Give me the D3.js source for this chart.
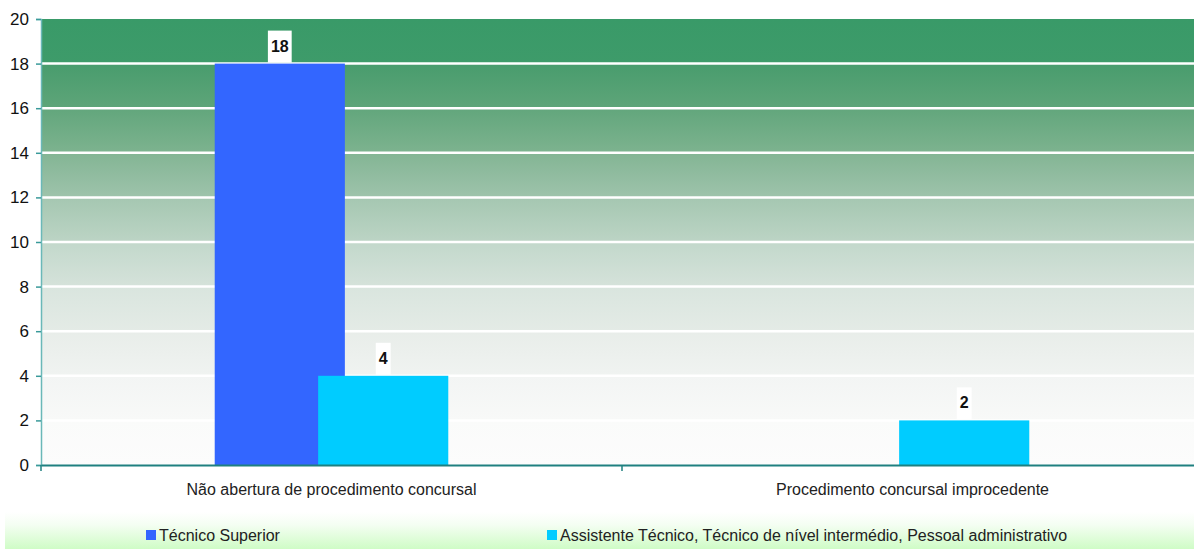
<!DOCTYPE html>
<html>
<head>
<meta charset="utf-8">
<script src="https://cdn.jsdelivr.net/npm/d3@7"></script>
<style>
  html, body { margin: 0; padding: 0; background: #fff; }
  svg { display: block; font-family: Arial, "Liberation Sans", sans-serif; }
</style>
</head>
<body>
<svg id="chart" width="1194" height="549"></svg>
<script>
// Categories, series and values
const categories = ["Não abertura de procedimento concursal", "Procedimento concursal improcedente"];
const seriesNames = ["Técnico Superior", "Assistente Técnico, Técnico de nível intermédio, Pessoal administrativo"];
const tecnicoSuperior = [18, 0];
const assistenteTecnico = [4, 2];
const yTicks = [0, 2, 4, 6, 8, 10, 12, 14, 16, 18, 20];

const seriesValues = [tecnicoSuperior, assistenteTecnico];
const seriesColors = ["#3366ff", "#00ccff"];

const svg = d3.select("#chart");
const W = 1194, H = 549;
const plot = { left: 41, right: 1203, top: 19, bottom: 465 };

const y = d3.scaleLinear().domain([0, 20]).range([plot.bottom, plot.top]);
const x0 = d3.scaleBand().domain(categories).range([plot.left, plot.right]).padding(0);
const barFrac = 0.224;   // bar width as a share of the category band
const stepFrac = 0.178;  // distance between the two series bars (they overlap)
const x1 = d3.scalePoint().domain(d3.range(seriesNames.length)).range([-stepFrac / 2, stepFrac / 2]);
const bw = x0.bandwidth() * barFrac;

const defs = svg.append("defs");

// Plot background: banded vertical gradient, dark green at top fading to white
const bandColors = [
  ["#399a68", "#3e9b6a"], ["#489c6d", "#5ea579"], ["#62a67c", "#7db38f"],
  ["#83b594", "#9ec3ab"], ["#a5c7b1", "#bcd4c5"], ["#c2d8cb", "#d5e2da"],
  ["#d9e5de", "#e4ebe6"], ["#e8ede9", "#f0f3f1"], ["#f3f5f4", "#f8f9f8"],
  ["#fafbfa", "#fcfcfc"]
];
const bg = defs.append("linearGradient").attr("id", "plotBg")
  .attr("x1", 0).attr("y1", 0).attr("x2", 0).attr("y2", 1);
bandColors.forEach((c, i) => {
  const n = bandColors.length;
  bg.append("stop").attr("offset", i / n).attr("stop-color", c[0]);
  bg.append("stop").attr("offset", (i + 1) / n).attr("stop-color", c[1]);
});

const lg = defs.append("linearGradient").attr("id", "legendBg")
  .attr("x1", 0).attr("y1", 0).attr("x2", 0).attr("y2", 1);
lg.append("stop").attr("offset", 0).attr("stop-color", "#ffffff");
lg.append("stop").attr("offset", 0.35).attr("stop-color", "#f4fef2");
lg.append("stop").attr("offset", 1).attr("stop-color", "#cffcc6");

svg.append("rect").attr("x", 0).attr("y", 0).attr("width", W).attr("height", H).attr("fill", "#fff");

svg.append("rect")
  .attr("x", plot.left).attr("y", y(20))
  .attr("width", plot.right - plot.left).attr("height", y(0) - y(20))
  .attr("fill", "url(#plotBg)");

// Horizontal white gridlines
svg.append("g").selectAll("line")
  .data(yTicks.filter(t => t > 0 && t < 20))
  .join("line")
  .attr("x1", plot.left).attr("x2", plot.right)
  .attr("y1", d => y(d)).attr("y2", d => y(d))
  .attr("stroke", "#ffffff").attr("stroke-width", 2.5);

// Bars
const groups = svg.append("g").selectAll("g")
  .data(seriesValues)
  .join("g")
  .attr("fill", (d, i) => seriesColors[i]);

groups.each(function (vals, si) {
  d3.select(this).selectAll("rect")
    .data(vals.map((v, ci) => ({ v, c: categories[ci] })).filter(d => d.v > 0))
    .join("rect")
    .attr("x", d => x0(d.c) + x0.bandwidth() * (0.5 + x1(si)) - bw / 2)
    .attr("y", d => y(d.v))
    .attr("width", bw)
    .attr("height", d => y(0) - y(d.v));
});

// Y axis
const yAxis = svg.append("g")
  .attr("transform", `translate(${plot.left},0)`)
  .call(d3.axisLeft(y).tickValues(yTicks).tickSize(5).tickPadding(7).tickFormat(d3.format("d")));
yAxis.select(".domain").attr("stroke", "#6ab8b8").attr("stroke-width", 1.5);
yAxis.selectAll(".tick line").attr("stroke", "#3a9a9a").attr("stroke-width", 1.5);
yAxis.selectAll(".tick text").attr("font-size", 17).attr("fill", "#111")
  .attr("font-family", "Arial, 'Liberation Sans', sans-serif");

// X axis
const xAxis = svg.append("g")
  .attr("transform", `translate(0,${plot.bottom})`)
  .call(d3.axisBottom(x0).tickSize(0).tickPadding(19));
xAxis.select(".domain").attr("stroke", "#1f8080").attr("stroke-width", 2);
xAxis.selectAll(".tick text").attr("font-size", 16).attr("fill", "#222")
  .attr("font-family", "Arial, 'Liberation Sans', sans-serif");
// Category separators
xAxis.append("g").selectAll("line")
  .data(categories)
  .join("line")
  .attr("x1", d => x0(d)).attr("x2", d => x0(d))
  .attr("y1", 0).attr("y2", 6)
  .attr("stroke", "#1f8080").attr("stroke-width", 1.5);

// Value labels on white boxes
const labelData = [];
seriesValues.forEach((vals, si) => vals.forEach((v, ci) => {
  if (v > 0) labelData.push({ v, si, cx: x0(categories[ci]) + x0.bandwidth() * (0.5 + x1(si)) });
}));
const lbl = svg.append("g").selectAll("g").data(labelData).join("g");
lbl.append("rect").attr("fill", "#ffffff");
lbl.append("text")
  .attr("x", d => d.cx)
  .attr("y", d => y(d.v) - 12)
  .attr("text-anchor", "middle")
  .attr("font-size", 16).attr("font-weight", "bold").attr("fill", "#111")
  .text(d => d.v);
lbl.each(function (d) {
  const t = d3.select(this).select("text");
  const w = t.node().getComputedTextLength() + 6;
  d3.select(this).select("rect")
    .attr("x", d.cx - w / 2).attr("y", y(d.v) - 33)
    .attr("width", w).attr("height", 32);
});

// Legend
svg.append("rect").attr("x", 5).attr("y", 512).attr("width", W - 5).attr("height", H - 512)
  .attr("fill", "url(#legendBg)");
const legendX = [146, 547];
const leg = svg.append("g").selectAll("g").data(seriesNames).join("g")
  .attr("transform", (d, i) => `translate(${legendX[i]},530)`);
leg.append("rect").attr("width", 10).attr("height", 10).attr("fill", (d, i) => seriesColors[i]);
leg.append("text").attr("x", 13).attr("y", 10.5)
  .attr("font-size", 16).attr("fill", "#222").text(d => d);
</script>
</body>
</html>
